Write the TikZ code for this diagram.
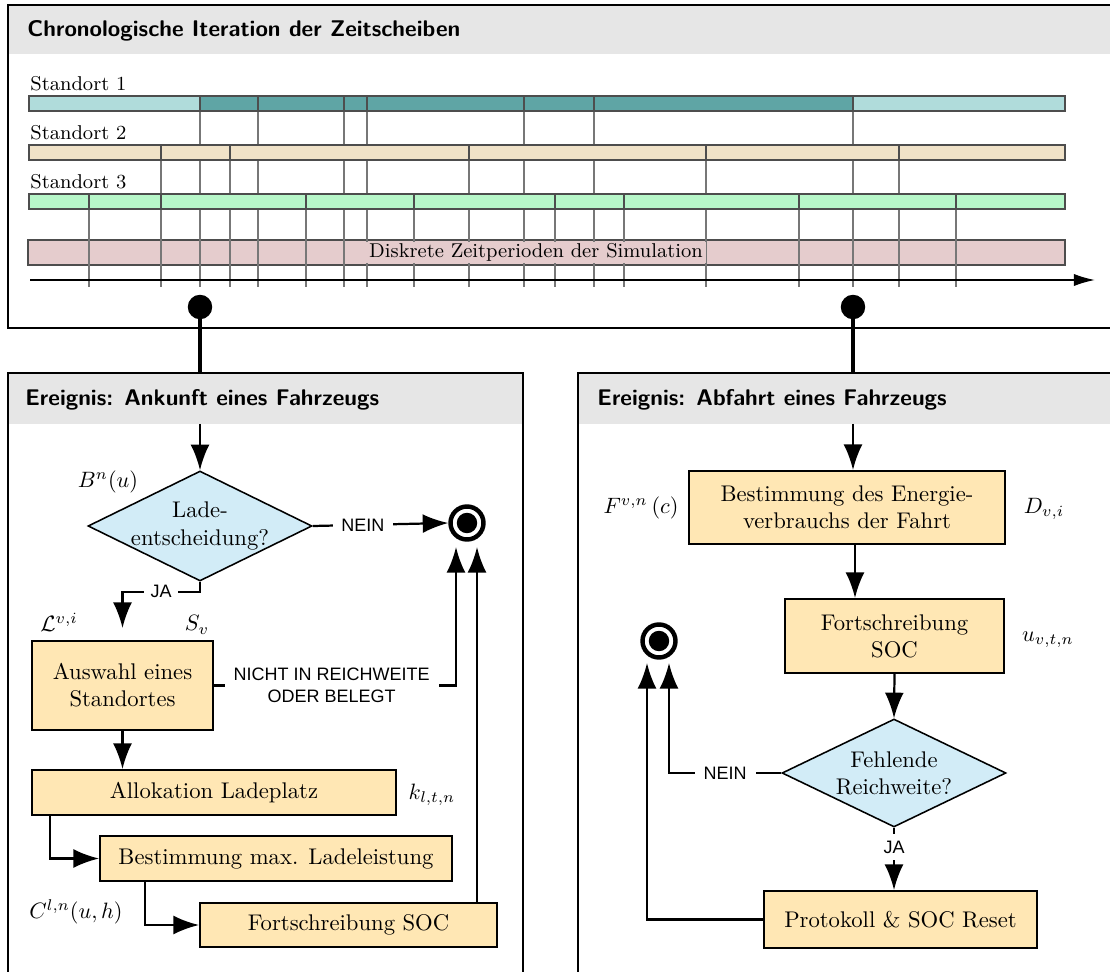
\documentclass[tikz,border=0pt]{standalone}
\usepackage{fontspec}
\newfontfamily\labfont{Liberation Sans}
\usetikzlibrary{arrows.meta,shapes.geometric,calc}
\definecolor{hdrgray}{HTML}{E6E6E6}
\definecolor{tealL}{HTML}{B0DCDB}
\definecolor{tealD}{HTML}{5FA5A5}
\definecolor{beige}{HTML}{F0E2C8}
\definecolor{mint}{HTML}{B7F7C9}
\definecolor{rose}{HTML}{E5CCCD}
\definecolor{boxfill}{HTML}{FFE7B4}
\definecolor{diafill}{HTML}{D2ECF7}
\definecolor{tlgray}{HTML}{777777}
\definecolor{bord}{HTML}{4D4D4D}
\begin{document}
\begin{tikzpicture}[x=0.45pt,y=-0.45pt,
  boxst/.style={draw, line width=0.9pt, fill=boxfill, align=center, inner sep=0pt, font=\fontsize{10.2}{12.2}\selectfont},
  diast/.style={diamond, draw, line width=0.7pt, fill=diafill, aspect=2.04, inner sep=-3pt, align=center, font=\fontsize{10.2}{12.2}\selectfont},
  arr/.style={-{Latex[length=11.5pt,width=8.5pt]}, line width=1pt},
  lab/.style={font=\labfont\fontsize{8.1}{9.9}\selectfont, fill=white, inner xsep=4pt, inner ysep=1pt, align=center},
  endst/.style={circle, draw, line width=2pt, minimum size=14.85pt, inner sep=0pt, path picture={\fill[black] (path picture bounding box.center) circle (4.6pt);}},
  evst/.style={circle, fill=black, minimum size=11pt, inner sep=0pt},
  stem/.style={line width=1.6pt},
  frame/.style={draw, line width=0.9pt},
  hdrtxt/.style={anchor=west, font=\sffamily\bfseries\fontsize{10.2}{12}\selectfont, inner sep=0pt},
  tick/.style={draw=tlgray, line width=0.6pt},
  seg/.style={draw=bord, line width=0.55pt},
  mlab/.style={font=\fontsize{10.2}{12.2}\selectfont, inner sep=0pt},
  stlab/.style={anchor=base west, font=\fontsize{9}{11}\selectfont, inner sep=0pt}
]
\useasboundingbox (0,0) rectangle (1110,972);
\clip (0,0) rectangle (1110,972);

% ---------- top frame ----------
\fill[hdrgray] (8,5) rectangle (1114,54);
\node[hdrtxt] (hdrT) at (27,31) {Chronologische Iteration der Zeitscheiben};
\draw[frame] (8,5) rectangle (1114,328);

% timeline
\draw[seg, fill=rose] (28,240) rectangle (1065,265);
\foreach \x in {200,258,344,367,524,594,853} \draw[tick] (\x,104) -- (\x,287);
\foreach \x in {161,230,469,706,899} \draw[tick] (\x,152) -- (\x,287);
\foreach \x in {89,306,414,555,624,799,956} \draw[tick] (\x,201) -- (\x,287);
\node[fill=rose, inner xsep=1.5pt, inner ysep=0.5pt, font=\fontsize{9}{11}\selectfont] (disk) at (536,252.5) {Diskrete Zeitperioden der Simulation};

\foreach \a/\b/\c in {29/200/tealL,200/258/tealD,258/344/tealD,344/367/tealD,367/524/tealD,524/594/tealD,594/853/tealD,853/1065/tealL}
  \draw[seg, fill=\c] (\a,96) rectangle (\b,111);
\foreach \a/\b in {29/161,161/230,230/469,469/706,706/899,899/1065}
  \draw[seg, fill=beige] (\a,145) rectangle (\b,160);
\foreach \a/\b in {29/89,89/161,161/306,306/414,414/555,555/624,624/799,799/956,956/1065}
  \draw[seg, fill=mint] (\a,194) rectangle (\b,209);

\coordinate (axS) at (30,280);
\coordinate (axE) at (1095,280);
\draw[line width=0.8pt, -{Latex[length=9.5pt,width=5.5pt]}] (axS) -- (axE);

\node[stlab] (st1) at (30,90.5) {Standort 1};
\node[stlab] (st2) at (30,139.5) {Standort 2};
\node[stlab] (st3) at (30,189) {Standort 3};

% event markers
\node[evst] (evL) at (200,307) {};
\node[evst] (evR) at (853,307) {};
\coordinate (topL) at (200,374);
\coordinate (topR) at (853,374);
\draw[stem] (evL.center) -- (topL);
\draw[stem] (evR.center) -- (topR);

% ---------- left frame ----------
\fill[hdrgray] (8,373) rectangle (523,424);
\draw[frame] (8,373) rectangle (523,985);
\node[hdrtxt] (hdrLt) at (25,400) {Ereignis: Ankunft eines Fahrzeugs};
\coordinate (hdrLb) at (200,424);

% ---------- right frame ----------
\fill[hdrgray] (578,373) rectangle (1114,424);
\draw[frame] (578,373) rectangle (1114,985);
\node[hdrtxt] (hdrRt) at (597,400) {Ereignis: Abfahrt eines Fahrzeugs};
\coordinate (hdrRb) at (853,424);

% ---------- left flow ----------
\node[diast, minimum width=100.8pt, minimum height=49.5pt] (lade) at (200,526) {Lade-\\entscheidung?};
\node[endst] (endL) at (467,523) {};
\node[boxst, minimum width=81.45pt, minimum height=40.05pt] (auswahl) at (122.5,685.5) {Auswahl eines\\Standortes};
\node[boxst, minimum width=163.8pt, minimum height=20.25pt] (alloc) at (214,792.5) {Allokation Ladeplatz};
\node[boxst, minimum width=158.4pt, minimum height=20.25pt] (bestmax) at (276,858.5) {Bestimmung max. Ladeleistung};
\node[boxst, minimum width=133.65pt, minimum height=19.8pt] (fortL) at (348.5,925) {Fortschreibung SOC};

\node[mlab] (mB) at (108,482) {$B^{n}(u)$};
\node[mlab] (mL) at (59,622) {$\mathcal{L}^{v,i}$};
\node[mlab] (mS) at (197,625) {$S_{v}$};
\node[mlab] (mk) at (432,795) {$k_{l,t,n}$};
\node[mlab] (mC) at (76,912) {$C^{l,n}(u,h)$};

\coordinate (inL1) at ($(endL.center)+(-11,24)$);
\coordinate (inL2) at ($(endL.center)+(10,24)$);
\coordinate (jaEnd) at ($(auswahl.north)+(0,-12)$);

\draw[arr] (hdrLb) -- (lade.north);
\draw[arr] (lade.east) -- node[lab, pos=0.37]{NEIN} (endL.west);
\draw[arr] (lade.south) -- ++(0,10) -| node[lab, pos=0.25, inner xsep=3pt]{JA} (jaEnd);
\draw[arr] (auswahl.east) -| node[lab, pos=0.243]{NICHT IN REICHWEITE\\ODER BELEGT} (inL1);
\draw[arr] (auswahl.south) -- (auswahl.south |- alloc.north);
\draw[arr] ($(alloc.south west)+(19,0)$) |- (bestmax.west);
\draw[arr] ($(bestmax.south west)+(46,0)$) |- (fortL.west);
\draw[arr] (fortL.north -| inL2) -- (inL2);

% ---------- right flow ----------
\node[boxst, minimum width=142.2pt, minimum height=32.85pt] (energie) at (847,507.5) {Bestimmung des Energie-\\verbrauchs der Fahrt};
\node[boxst, minimum width=98.55pt, minimum height=33.3pt] (fortR) at (894.5,636) {Fortschreibung\\SOC};
\node[diast, minimum width=100.8pt, minimum height=48.6pt] (fehl) at (894,773) {Fehlende\\Reichweite?};
\node[boxst, minimum width=122.85pt, minimum height=25.65pt] (prot) at (900.5,919.5) {Protokoll \& SOC Reset};
\node[endst] (endR) at (659,641) {};

\node[mlab] (mF) at (641,508) {$F^{v,n}\,(c)$};
\node[mlab] (mD) at (1044,509) {$D_{v,i}$};
\node[mlab] (mu) at (1048,640) {$u_{v,t,n}$};

\coordinate (inR1) at ($(endR.center)+(10,22)$);
\coordinate (inR2) at ($(endR.center)+(-12,22)$);
\coordinate (eOut) at ($(energie.south)+(8,0)$);

\draw[arr] (hdrRb) -- (hdrRb |- energie.north);
\draw[arr] (eOut) -- (eOut |- fortR.north);
\draw[arr] (fortR.south) -- (fehl.north);
\draw[arr] (fehl.west) -| node[lab, pos=0.25]{NEIN} (inR1);
\draw[arr] (fehl.south) -- node[lab, pos=0.31, inner xsep=1pt, inner ysep=3pt]{JA} (fehl.south |- prot.north);
\draw[arr] (prot.west) -| (inR2);
\end{tikzpicture}
\end{document}
